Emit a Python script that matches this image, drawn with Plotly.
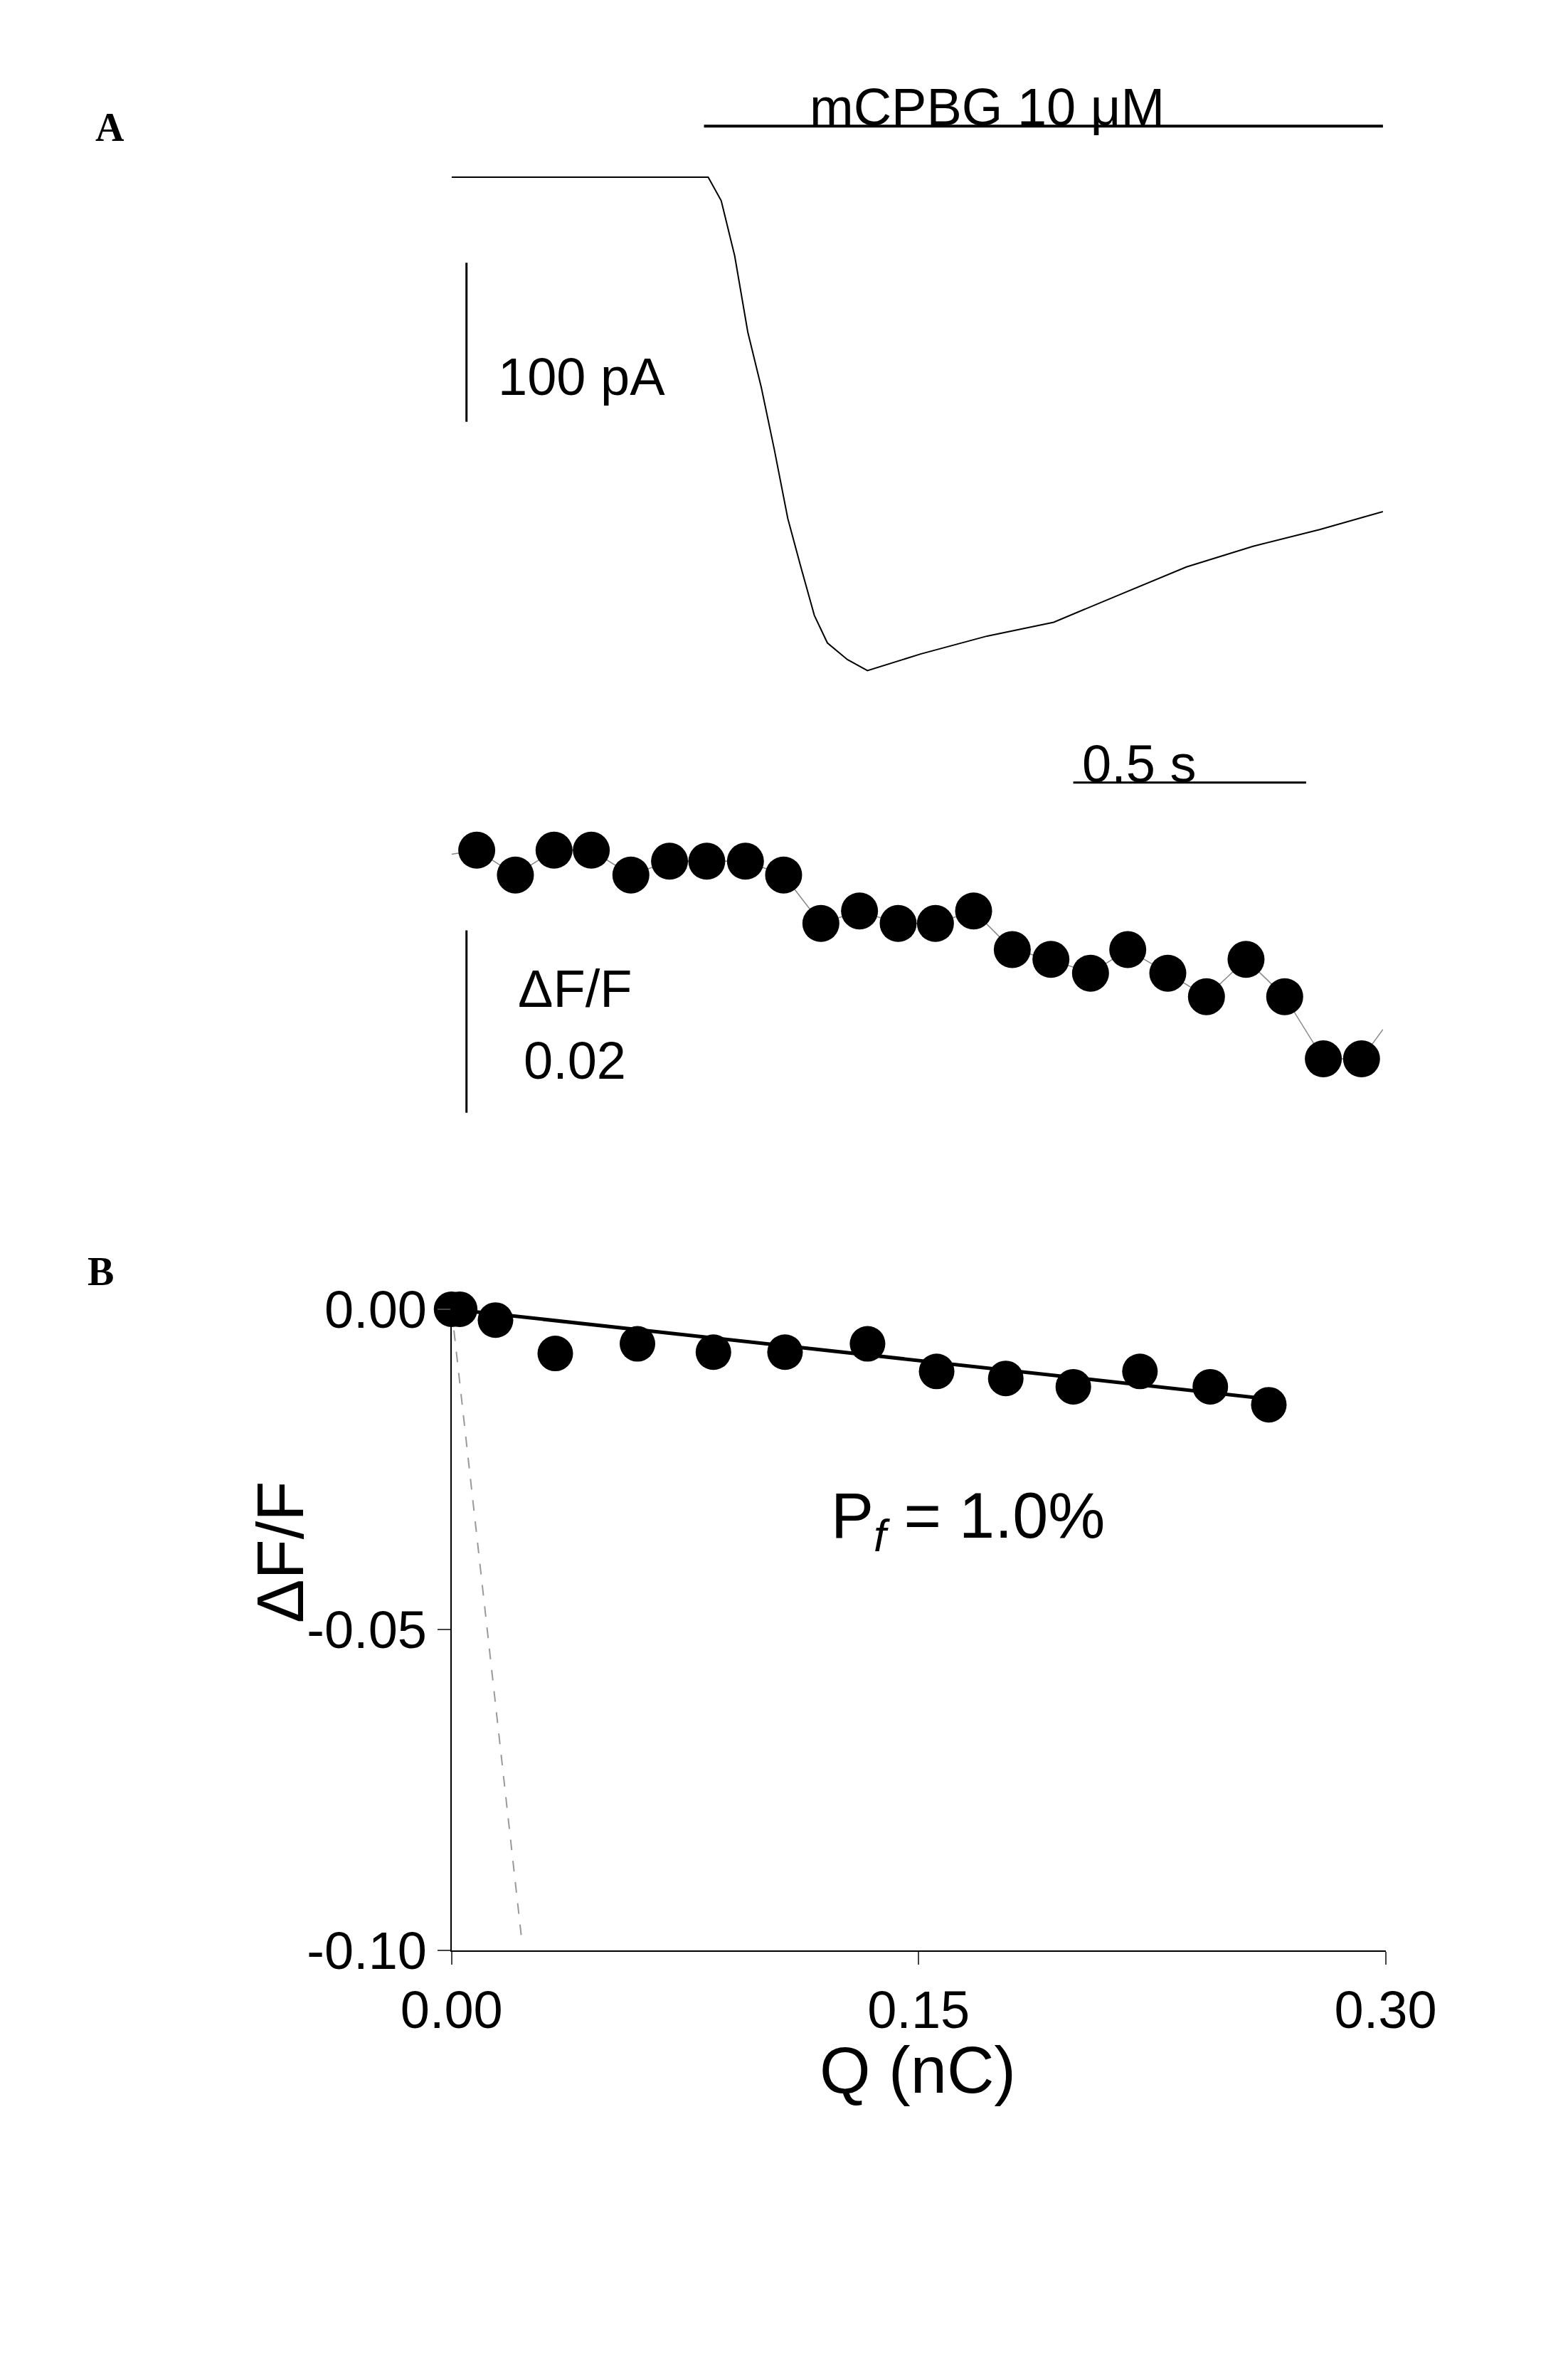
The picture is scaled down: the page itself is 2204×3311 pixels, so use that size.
import plotly.graph_objects as go

# Panel A: current trace (time s, current pA)
trace_t = [0.0, 0.551, 0.579, 0.608, 0.636, 0.665, 0.693, 0.722, 0.75, 0.779, 0.807, 0.85, 0.893, 1.007, 1.15, 1.293, 1.435, 1.578, 1.721, 1.864, 2.0]
trace_i = [0.0, 0.0, -14.8, -49.6, -97.4, -132.2, -171.3, -214.8, -245.2, -275.7, -293.0, -303.5, -310.4, -300.0, -288.7, -280.0, -262.6, -245.2, -232.2, -221.7, -210.4]

# Panel A: fluorescence dots (time s, dF/F)
dot_t = [0.054, 0.137, 0.220, 0.300, 0.385, 0.468, 0.548, 0.631, 0.713, 0.793, 0.876, 0.959, 1.039, 1.121, 1.204, 1.287, 1.372, 1.452, 1.538, 1.621, 1.706, 1.789, 1.872, 1.954]
dot_f = [0.00045, -0.00227, 0.00045, 0.00045, -0.00227, -0.00076, -0.00076, -0.00076, -0.00227, -0.00758, -0.00621, -0.00758, -0.00758, -0.00621, -0.01045, -0.01152, -0.01303, -0.01045, -0.01303, -0.01561, -0.01152, -0.01561, -0.02242, -0.02242]

# Panel B: Q (nC) vs dF/F
q_vals = [0, 0.0026, 0.0141, 0.0333, 0.0597, 0.0841, 0.1071, 0.1336, 0.1558, 0.1780, 0.1997, 0.2211, 0.2437, 0.2625]
df_vals = [0, 0, -0.0017, -0.0069, -0.0054, -0.0067, -0.0067, -0.0054, -0.0097, -0.0108, -0.0121, -0.0097, -0.0121, -0.0149]
fit_q = [0, 0.2625]
fit_f = [0, -0.0140]
ref_q = [0, 0.0226]
ref_f = [0, -0.0987]
x_ticks = [0.0, 0.15, 0.30]
x_tick_text = ["0.00", "0.15", "0.30"]
y_ticks = [0.0, -0.05, -0.10]
y_tick_text = ["0.00", "-0.05", "-0.10"]

FONT = "Liberation Sans"
fig = go.Figure()
fig.add_trace(go.Scatter(x=trace_t, y=trace_i, mode="lines", line=dict(color="black", width=2), xaxis="x", yaxis="y"))
line_t = [0.0] + dot_t + [2.0]
line_f = [0.0] + dot_f + [-0.0192]
fig.add_trace(go.Scatter(x=line_t, y=line_f, mode="lines", line=dict(color="#888", width=1.5), xaxis="x2", yaxis="y2"))
fig.add_trace(go.Scatter(x=dot_t, y=dot_f, mode="markers", marker=dict(color="black", size=52), xaxis="x2", yaxis="y2", cliponaxis=False))
fig.add_trace(go.Scatter(x=ref_q, y=ref_f, mode="lines", line=dict(color="#999", width=2, dash="longdash"), xaxis="x3", yaxis="y3"))
fig.add_trace(go.Scatter(x=fit_q, y=fit_f, mode="lines", line=dict(color="black", width=5), xaxis="x3", yaxis="y3"))
fig.add_trace(go.Scatter(x=q_vals, y=df_vals, mode="markers", marker=dict(color="black", size=50), xaxis="x3", yaxis="y3", cliponaxis=False))

hid = dict(visible=False, showgrid=False, zeroline=False)
xd = [0.2693, 0.9048]
fig.update_layout(
    width=2204, height=3311, margin=dict(l=0, r=0, t=0, b=0),
    paper_bgcolor="white", plot_bgcolor="rgba(0,0,0,0)", showlegend=False,
    font=dict(family=FONT, color="black"),
    xaxis=dict(domain=xd, range=[0, 2], **hid),
    yaxis=dict(domain=[0.7112, 0.9519], range=[-327.8, 20], **hid),
    xaxis2=dict(domain=xd, range=[0, 2], anchor="y2", **hid),
    yaxis2=dict(domain=[0.5187, 0.6631], range=[-0.03136, 0.005], anchor="x2", **hid),
    xaxis3=dict(domain=[0.2693, 0.9066], range=[0, 0.3], anchor="y3", showgrid=False, zeroline=False,
                showline=True, linecolor="black", linewidth=2, ticks="outside", ticklen=18, tickwidth=2,
                tickvals=x_ticks, ticktext=x_tick_text, tickfont=dict(size=74, family=FONT)),
    yaxis3=dict(domain=[0.1661, 0.4452], range=[-0.1, 0], anchor="x3", showgrid=False, zeroline=False,
                showline=True, linecolor="black", linewidth=2, ticks="outside", ticklen=18, tickwidth=2,
                tickvals=y_ticks, ticktext=y_tick_text, tickfont=dict(size=74, family=FONT)),
)

def line(x0, y0, x1, y1, xref, yref, w=3):
    fig.add_shape(type="line", x0=x0, y0=y0, x1=x1, y1=y1, xref=xref, yref=yref, line=dict(color="black", width=w))

line(0.542, 0.9603, 2.029, 0.9603, "x", "paper", 4)
line(0.032, -53.9, 0.032, -153.9, "x", "y")
line(1.335, 0.6745, 1.835, 0.6745, "x", "paper")
line(0.032, -0.00833, 0.032, -0.02833, "x2", "y2")

def txt(s, x, y, size, **kw):
    fig.add_annotation(text=s, x=x, y=y, xref="paper", yref="paper", showarrow=False, font=dict(size=size, family=kw.pop("family", FONT), color="black"), **kw)

txt("mCPBG 10 μM", 0.6346, 0.982, 74)
txt("100 pA", 0.358, 0.8646, 74)
txt("0.5 s", 0.778, 0.6961, 74)
txt("ΔF/F", 0.3536, 0.5848, 74)
txt("0.02", 0.3536, 0.5535, 74)
txt("<b>A</b>", 0.0254, 0.970, 56, family="Liberation Serif")
txt("<b>B</b>", 0.020, 0.4615, 56, family="Liberation Serif")
txt("P<sub><i>f</i></sub> = 1.0%", 0.716, 0.3532, 90)
txt("ΔF/F", 0.127, 0.308, 92, textangle=-90)
txt("Q (nC)", 0.5875, 0.0975, 92)

fig.write_html("out.html")
